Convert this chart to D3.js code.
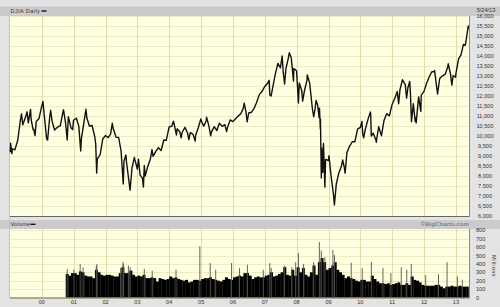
<!DOCTYPE html>
<html>
<head>
<meta charset="utf-8">
<script src="https://cdn.jsdelivr.net/npm/d3@7"></script>
<style>
  body { margin: 0; background: #e3e3e3; }
  svg { display: block; font-family: "Liberation Sans", Arial, sans-serif; }
</style>
</head>
<body>
<div id="chart"></div>
<script>
// DJIA daily (closes plus the visible swings)
var djia = [
  ["1999-01-04",9184],["1999-01-08",9643],["1999-01-22",9120],["1999-01-29",9359],["1999-02-26",9307],["1999-03-31",9786],["1999-04-30",10789],["1999-05-13",11107],["1999-05-28",10560],["1999-06-30",10971],["1999-07-16",11210],["1999-07-30",10655],["1999-08-25",11326],["1999-08-31",10829],["1999-09-23",10318],["1999-09-30",10337],["1999-10-15",10019],["1999-10-29",10729],["1999-11-30",10878],["1999-12-31",11497],
  ["2000-01-14",11723],["2000-01-31",10940],["2000-02-25",9862],["2000-03-07",9796],["2000-03-31",10922],["2000-04-11",11287],["2000-04-28",10734],["2000-05-26",10300],["2000-06-30",10448],["2000-07-31",10522],["2000-08-31",11215],["2000-09-06",11310],["2000-09-29",10651],["2000-10-18",9800],["2000-10-31",10971],["2000-11-30",10415],["2000-12-20",10318],["2000-12-29",10787],
  ["2001-01-31",10887],["2001-02-28",10495],["2001-03-22",9250],["2001-03-30",9879],["2001-04-30",10735],["2001-05-21",11337],["2001-05-31",10912],["2001-06-29",10502],["2001-07-31",10523],["2001-08-31",9950],["2001-09-10",9606],["2001-09-21",8150],["2001-09-28",8848],["2001-10-31",9075],["2001-11-30",9852],["2001-12-31",10022],
  ["2002-01-31",9920],["2002-02-28",10106],["2002-03-19",10635],["2002-03-28",10404],["2002-04-30",9946],["2002-05-31",9925],["2002-06-28",9243],["2002-07-23",7600],["2002-07-31",8737],["2002-08-22",9053],["2002-08-30",8664],["2002-09-30",7592],["2002-10-09",7286],["2002-10-31",8397],["2002-11-27",8931],["2002-11-29",8896],["2002-12-31",8342],
  ["2003-01-14",8842],["2003-01-31",8054],["2003-02-28",7891],["2003-03-11",7450],["2003-03-21",8522],["2003-03-31",7992],["2003-04-30",8480],["2003-05-30",8850],["2003-06-17",9323],["2003-06-30",8985],["2003-07-31",9234],["2003-08-29",9416],["2003-09-30",9275],["2003-10-31",9801],["2003-11-28",9782],["2003-12-31",10454],
  ["2004-01-30",10488],["2004-02-19",10738],["2004-02-27",10584],["2004-03-24",10048],["2004-03-31",10358],["2004-04-30",10226],["2004-05-17",9906],["2004-05-28",10188],["2004-06-30",10435],["2004-07-30",10140],["2004-08-12",9815],["2004-08-31",10174],["2004-09-30",10080],["2004-10-25",9750],["2004-10-29",10027],["2004-11-30",10428],["2004-12-28",10854],["2004-12-31",10783],
  ["2005-01-31",10490],["2005-02-28",10766],["2005-03-04",10940],["2005-03-31",10504],["2005-04-20",10013],["2005-04-29",10193],["2005-05-31",10467],["2005-06-30",10275],["2005-07-29",10641],["2005-08-31",10482],["2005-09-30",10569],["2005-10-20",10216],["2005-10-31",10440],["2005-11-30",10806],["2005-12-30",10718],
  ["2006-01-31",10865],["2006-02-28",10993],["2006-03-31",11109],["2006-04-28",11367],["2006-05-10",11642],["2006-05-31",11168],["2006-06-13",10706],["2006-06-30",11150],["2006-07-31",11186],["2006-08-31",11381],["2006-09-29",11679],["2006-10-31",12081],["2006-11-30",12222],["2006-12-29",12463],
  ["2007-01-31",12622],["2007-02-20",12786],["2007-02-27",12050],["2007-03-14",12000],["2007-03-30",12354],["2007-04-30",13063],["2007-05-31",13628],["2007-06-29",13409],["2007-07-19",14000],["2007-07-31",13212],["2007-08-16",12600],["2007-08-31",13358],["2007-09-28",13896],["2007-10-09",14164],["2007-10-31",13930],["2007-11-26",12743],["2007-11-30",13372],["2007-12-31",13265],
  ["2008-01-22",11650],["2008-01-31",12650],["2008-02-29",12266],["2008-03-10",11740],["2008-03-31",12263],["2008-04-30",12820],["2008-05-02",13058],["2008-05-30",12638],["2008-06-30",11350],["2008-07-15",10963],["2008-07-31",11378],["2008-08-11",11782],["2008-08-29",11544],["2008-09-15",10918],["2008-09-19",11388],["2008-09-29",10365],["2008-09-30",10851],["2008-10-10",7900],["2008-10-13",9387],["2008-10-27",8176],["2008-10-31",9325],["2008-11-04",9625],["2008-11-20",7450],["2008-11-28",8829],["2008-12-31",8776],
  ["2009-01-06",9015],["2009-01-30",8001],["2009-02-27",7063],["2009-03-09",6547],["2009-03-31",7609],["2009-04-30",8168],["2009-05-29",8500],["2009-06-12",8799],["2009-06-30",8447],["2009-07-10",8146],["2009-07-31",9172],["2009-08-31",9496],["2009-09-30",9712],["2009-10-30",9713],["2009-11-30",10345],["2009-12-31",10428],
  ["2010-01-19",10725],["2010-01-29",10067],["2010-02-08",9908],["2010-02-26",10325],["2010-03-31",10857],["2010-04-26",11205],["2010-04-30",11009],["2010-05-06",10000],["2010-05-28",10137],["2010-06-30",9774],["2010-07-02",9686],["2010-07-30",10466],["2010-08-31",10015],["2010-09-30",10788],["2010-10-29",11118],["2010-11-30",11006],["2010-12-31",11578],
  ["2011-01-31",11892],["2011-02-28",12226],["2011-03-16",11613],["2011-03-31",12320],["2011-04-29",12811],["2011-05-31",12570],["2011-06-15",11897],["2011-06-30",12414],["2011-07-21",12724],["2011-07-29",12143],["2011-08-10",10720],["2011-08-31",11614],["2011-09-22",10733],["2011-09-30",10913],["2011-10-03",10655],["2011-10-31",11955],["2011-11-25",11231],["2011-11-30",12046],["2011-12-30",12218],
  ["2012-01-31",12633],["2012-02-29",12952],["2012-03-30",13212],["2012-04-30",13214],["2012-05-01",13279],["2012-06-04",12101],["2012-06-29",12880],["2012-07-31",13009],["2012-08-31",13091],["2012-09-28",13437],["2012-10-05",13610],["2012-10-31",13096],["2012-11-15",12543],["2012-11-30",13026],["2012-12-28",12938],["2012-12-31",13104],
  ["2013-01-31",13861],["2013-02-28",14054],["2013-03-28",14579],["2013-04-18",14537],["2013-04-30",14840],["2013-05-22",15500],["2013-05-24",15350]
];

// monthly volume (millions), starting Oct 2000
var volStart = "2000-10-01";
var volume = [
  280,260,290,
  290,270,310,300,260,250,250,230,330,300,270,260,
  270,270,260,250,250,290,360,290,290,320,270,250,
  260,250,270,230,230,240,230,190,230,220,210,220,
  250,230,240,220,210,200,210,180,190,210,210,200,
  220,230,230,240,220,210,200,190,210,240,220,210,
  240,250,260,250,290,290,260,220,240,250,240,240,
  260,270,300,250,260,280,300,360,270,260,330,260,
  360,300,350,270,250,300,380,270,420,470,420,330,
  350,380,420,330,300,270,230,250,230,220,200,190,
  210,210,190,190,260,220,190,170,170,160,170,150,
  160,170,180,150,150,170,150,250,210,200,180,150,
  140,140,140,140,150,150,130,110,130,130,140,130,
  130,140,130,130,130
];

// single heavy sessions standing above the mass
var volSpikes = [
  ["2000-10-18",340],["2001-01-03",330],["2001-03-16",400],["2001-04-18",360],["2001-09-17",380],["2001-09-24",400],
  ["2002-06-21",350],["2002-07-19",425],["2002-07-24",400],["2002-09-20",380],["2002-10-10",360],["2003-03-21",340],
  ["2003-06-20",320],["2004-03-19",330],["2004-12-17",610],["2005-04-15",410],["2005-06-17",330],["2005-12-16",410],
  ["2006-03-17",350],["2006-06-16",390],["2006-12-15",330],["2007-02-27",410],["2007-03-16",350],["2007-08-16",380],
  ["2007-11-08",360],["2007-12-21",420],["2008-01-22",530],["2008-03-21",400],["2008-07-15",420],["2008-09-18",660],
  ["2008-10-10",560],["2008-11-20",480],["2009-02-20",565],["2009-03-10",505],["2009-09-18",415],["2010-01-22",350],
  ["2010-05-07",425],["2010-09-17",350],["2010-12-17",290],["2011-04-15",360],["2011-06-17",330],["2011-08-08",400],
  ["2012-01-20",265],["2012-06-15",280],["2012-09-21",420],["2013-01-18",250],["2013-03-15",210]
];

var priceTicks = [6000,6500,7000,7500,8000,8500,9000,9500,10000,10500,11000,11500,12000,12500,13000,13500,14000,14500,15000,15500,16000];
var volTicks = [0,100,200,300,400,500,600,700,800];
var years = ["00","01","02","03","04","05","06","07","08","09","10","11","12","13"];
var lastDate = "5/24/13";

var W = 500, H = 307;
var parse = d3.timeParse("%Y-%m-%d");
var endDate = parse("2013-05-25");

var svg = d3.select("#chart").append("svg")
  .attr("width", W).attr("height", H);

svg.append("rect").attr("width", W).attr("height", H).attr("fill", "#e3e3e3");

var x = d3.scaleTime()
  .domain([parse("1999-01-01"), endDate])
  .range([10, 468.5]);

var yP = d3.scaleLinear().domain([6000, 16000]).range([216, 16]);
var yV = d3.scaleLinear().domain([0, 800]).range([297.5, 230.3]);

var plotL = 10, plotR = 469;

// header bars
svg.append("rect").attr("x", 0).attr("y", 6.5).attr("width", W).attr("height", 9.5).attr("fill", "#cbcbcb");
svg.append("rect").attr("x", 0).attr("y", 220).attr("width", W).attr("height", 9).attr("fill", "#cbcbcb");
svg.append("line").attr("x1", 9.5).attr("x2", 9.5).attr("y1", 16).attr("y2", 298).attr("stroke", "#c4c4c4");

function panel(top, bottom, yScale, ticks) {
  var g = svg.append("g");
  g.append("rect")
    .attr("x", plotL).attr("y", top)
    .attr("width", plotR - plotL).attr("height", bottom - top)
    .attr("fill", "#ffffe1");
  g.selectAll(".hg").data(ticks).enter().append("line")
    .attr("x1", plotL).attr("x2", plotR)
    .attr("y1", function(d) { return Math.round(yScale(d)) + 0.5; })
    .attr("y2", function(d) { return Math.round(yScale(d)) + 0.5; })
    .attr("stroke", "#ecebc2").attr("stroke-width", 1);
  g.selectAll(".vg").data(years).enter().append("line")
    .attr("x1", function(d) { return Math.round(x(parse("20" + d + "-01-01"))) + 0.5; })
    .attr("x2", function(d) { return Math.round(x(parse("20" + d + "-01-01"))) + 0.5; })
    .attr("y1", top).attr("y2", bottom)
    .attr("stroke", "#dfdcaa").attr("stroke-width", 1);
  return g;
}

panel(16, 216, yP, priceTicks);
panel(229, 297.5, yV, volTicks);

// price line
var line = d3.line()
  .x(function(d) { return x(parse(d[0])); })
  .y(function(d) { return yP(d[1]); });

svg.append("path")
  .datum(djia)
  .attr("d", line)
  .attr("fill", "none")
  .attr("stroke", "#111")
  .attr("stroke-width", 1.4)
  .attr("stroke-linejoin", "round");

// volume bars
var v0 = parse(volStart);
svg.append("g").selectAll("rect").data(volume).enter().append("rect")
  .attr("x", function(d, i) { return x(d3.timeMonth.offset(v0, i)); })
  .attr("width", function(d, i) {
    var a = d3.timeMonth.offset(v0, i), b = d3.min([d3.timeMonth.offset(v0, i + 1), endDate]);
    return x(b) - x(a) + 0.3;
  })
  .attr("y", function(d) { return yV(d); })
  .attr("height", function(d) { return yV(0) - yV(d); })
  .attr("fill", "#000");

svg.append("g").selectAll("line").data(volSpikes).enter().append("line")
  .attr("x1", function(d) { return x(parse(d[0])); })
  .attr("x2", function(d) { return x(parse(d[0])); })
  .attr("y1", function(d) { return yV(d[1]); })
  .attr("y2", yV(0))
  .attr("stroke", "#555").attr("stroke-width", 0.9);

// panel borders
svg.append("line").attr("x1", plotL).attr("x2", plotR + 0.5).attr("y1", 216.5).attr("y2", 216.5).attr("stroke", "#666");
svg.append("line").attr("x1", plotL).attr("x2", plotR + 0.5).attr("y1", 298).attr("y2", 298).attr("stroke", "#666");
svg.append("line").attr("x1", plotR + 0.5).attr("x2", plotR + 0.5).attr("y1", 16).attr("y2", 216.5).attr("stroke", "#888");
svg.append("line").attr("x1", plotR + 0.5).attr("x2", plotR + 0.5).attr("y1", 229).attr("y2", 298).attr("stroke", "#888");

// texts
var txt = "#333";
svg.append("text").attr("x", 10.5).attr("y", 13).attr("font-size", 5.6).attr("fill", txt)
  .attr("letter-spacing", 0.4).text("DJIA Daily");
svg.append("rect").attr("x", 41.5).attr("y", 10.3).attr("width", 5).attr("height", 1.4).attr("fill", "#111");
svg.append("text").attr("x", 10.5).attr("y", 226.3).attr("font-size", 5.6).attr("fill", txt)
  .attr("letter-spacing", 0.2).text("Volume");
svg.append("rect").attr("x", 30.5).attr("y", 223.6).attr("width", 5).attr("height", 1.4).attr("fill", "#111");
svg.append("text").attr("x", 469).attr("y", 226.3).attr("font-size", 5.8).attr("font-weight", "bold")
  .attr("fill", "#808080").attr("text-anchor", "end").attr("letter-spacing", 0.2).text("\u00A9BigCharts.com");
svg.append("text").attr("x", 486).attr("y", 11.8).attr("font-size", 5.6).attr("fill", txt)
  .attr("text-anchor", "middle").text(lastDate);

var fmt = d3.format(",");
svg.append("g").selectAll("text").data(priceTicks).enter().append("text")
  .attr("x", 485).attr("y", function(d) { return yP(d) + 2; })
  .attr("font-size", 5.6).attr("fill", txt).attr("text-anchor", "middle")
  .text(function(d) { return fmt(d); });

svg.append("g").selectAll("text").data(volTicks).enter().append("text")
  .attr("x", 476).attr("y", function(d) { return yV(d) + 2; })
  .attr("font-size", 5.6).attr("fill", txt)
  .text(function(d) { return d; });

svg.append("text")
  .attr("transform", "translate(491.5,255) rotate(90)")
  .attr("font-size", 5.6).attr("fill", txt).attr("letter-spacing", 0.4)
  .text("Millions");

svg.append("g").selectAll("text").data(years).enter().append("text")
  .attr("x", function(d) { return x(parse("20" + d + "-01-01")); })
  .attr("y", 304.3)
  .attr("font-size", 5.6).attr("fill", txt).attr("text-anchor", "middle")
  .text(function(d) { return d; });
</script>
</body>
</html>
